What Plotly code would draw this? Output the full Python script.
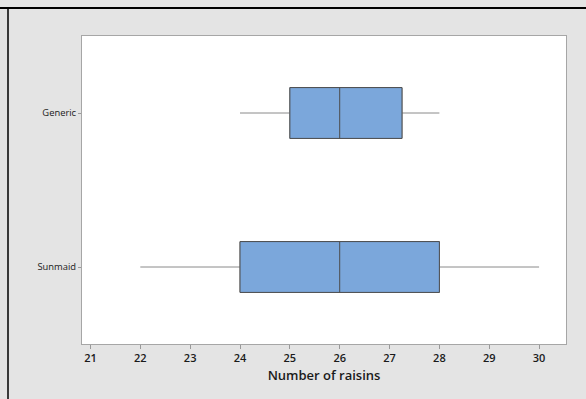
import plotly.graph_objects as go

categories = ["Generic", "Sunmaid"]
lower_whisker = [24, 22]
q1 = [25, 24]
median = [26, 26]
q3 = [27.25, 28]
upper_whisker = [28, 30]
x_ticks = [21, 22, 23, 24, 25, 26, 27, 28, 29, 30]

fig = go.Figure()
# whiskers (lighter gray)
fig.add_trace(go.Box(
    y=categories,
    q1=q1, median=median, q3=q3,
    lowerfence=lower_whisker, upperfence=upper_whisker,
    orientation="h",
    fillcolor="#7BA7DB",
    line=dict(color="#8a8a8a", width=1),
    width=0.33, whiskerwidth=0, boxpoints=False, hoverinfo="skip",
))
# box body with darker outline
fig.add_trace(go.Box(
    y=categories,
    q1=q1, median=median, q3=q3,
    lowerfence=q1, upperfence=q3,
    orientation="h",
    fillcolor="#7BA7DB",
    line=dict(color="#4d4d4d", width=1),
    width=0.33, whiskerwidth=0, boxpoints=False, hoverinfo="skip",
))

fig.update_layout(
    width=586, height=399,
    margin=dict(l=82, r=20, t=36, b=55),
    paper_bgcolor="#E4E4E4",
    plot_bgcolor="white",
    showlegend=False,
    boxmode="overlay",
    font=dict(family="Open Sans", color="#1a1a1a"),
    xaxis=dict(
        range=[20.83, 30.54],
        tickvals=x_ticks,
        ticks="outside", ticklen=4, tickcolor="#999999",
        showgrid=False, zeroline=False,
        showline=True, linecolor="#a6a6a6", mirror=True, linewidth=1,
        tickfont=dict(size=11, weight=600),
        title=dict(text="Number of raisins", font=dict(size=13, weight=600), standoff=6),
    ),
    yaxis=dict(
        type="category",
        categoryorder="array", categoryarray=["Sunmaid", "Generic"],
        range=[-0.5, 1.5],
        ticks="outside", ticklen=3, tickcolor="#999999",
        showgrid=False, zeroline=False,
        showline=True, linecolor="#a6a6a6", mirror=True, linewidth=1,
        tickfont=dict(size=9.4),
    ),
)

# window frame lines (top and left)
fig.add_shape(type="line", xref="paper", yref="paper",
              x0=-82/484, x1=(586-82)/484, y0=1+28/308, y1=1+28/308,
              line=dict(color="black", width=2))
fig.add_shape(type="line", xref="paper", yref="paper",
              x0=-74/484, x1=-74/484, y0=-55/308, y1=1+28/308,
              line=dict(color="black", width=1.5))

fig.write_html("out.html", config={"displayModeBar": False},
               post_script="document.body.style.margin='0';document.body.style.padding='0';")
